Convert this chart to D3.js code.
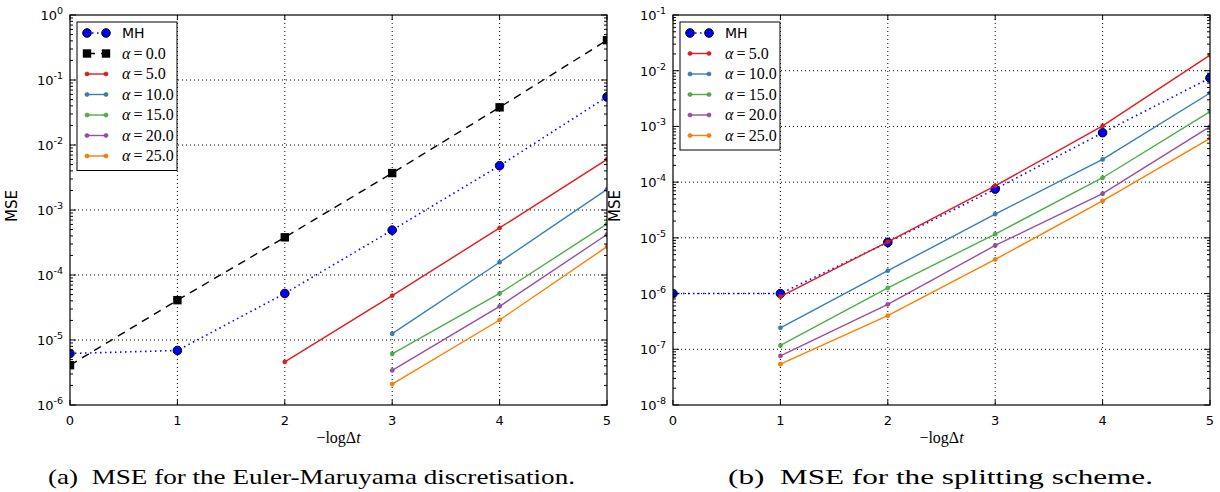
<!DOCTYPE html>
<html lang="en">
<head>
<meta charset="UTF-8">
<title>MSE</title>
<script src="https://d3js.org/d3.v7.min.js"></script>
<style>
  body { margin: 0; background: #fff; }
  svg { display: block; }
  text { font-family: "DejaVu Sans", sans-serif; }
  .serif { font-family: "Liberation Serif", "DejaVu Serif", serif; }
</style>
</head>
<body>
<script>

// ---- data ----
var steps = [0, 1, 2, 3, 4, 5];
var alphaLabels = ["5.0", "10.0", "15.0", "20.0", "25.0"];
var alphaColors = ["#e41a1c", "#377eb8", "#4daf4a", "#984ea3", "#ff7f00"];

// (a) Euler-Maruyama
var emMH      = [6.2e-6, 6.9e-6, 5.2e-5, 4.9e-4, 4.8e-3, 5.5e-2];
var emAlpha0  = [4.1e-6, 4.1e-5, 3.8e-4, 3.7e-3, 3.8e-2, 4.1e-1];
var emAlpha5  = [null, null, 4.6e-6, 4.8e-5, 5.3e-4, 6.0e-3];
var emAlpha10 = [null, null, null, 1.25e-5, 1.57e-4, 2.08e-3];
var emAlpha15 = [null, null, null, 6.1e-6, 5.2e-5, 6.1e-4];
var emAlpha20 = [null, null, null, 3.4e-6, 3.3e-5, 4.2e-4];
var emAlpha25 = [null, null, null, 2.1e-6, 2.03e-5, 2.73e-4];

// (b) splitting scheme
var spMH      = [1.0e-6, 1.0e-6, 8.3e-6, 7.5e-5, 7.7e-4, 7.4e-3];
var spAlpha5  = [null, 8.8e-7, 8.5e-6, 8.6e-5, 1.02e-3, 1.9e-2];
var spAlpha10 = [null, 2.43e-7, 2.57e-6, 2.67e-5, 2.56e-4, 3.98e-3];
var spAlpha15 = [null, 1.17e-7, 1.26e-6, 1.17e-5, 1.2e-4, 1.84e-3];
var spAlpha20 = [null, 7.6e-8, 6.4e-7, 7.3e-6, 6.2e-5, 9.9e-4];
var spAlpha25 = [null, 5.4e-8, 4.0e-7, 4.1e-6, 4.6e-5, 6.1e-4];

var svg = d3.select("body").append("svg")
    .attr("width", 1220)
    .attr("height", 492);

function drawPanel(p) {
    var x = d3.scaleLinear().domain([0, 5]).range([p.left, p.right]);
    var y = d3.scaleLog().domain(p.yDomain).range([p.bottom, p.top]);
    var g = svg.append("g");

    var clipId = "clip" + p.id;
    svg.append("clipPath").attr("id", clipId)
        .append("rect")
        .attr("x", p.left).attr("y", p.top)
        .attr("width", p.right - p.left).attr("height", p.bottom - p.top);

    var allTicks = y.ticks();
    var major = allTicks.filter(function (t) { return Math.abs(Math.log10(t) - Math.round(Math.log10(t))) < 1e-9; });
    var minor = allTicks.filter(function (t) { return major.indexOf(t) < 0; });

    // grid
    g.selectAll(".gx").data(steps.slice(1, -1)).enter().append("line")
        .attr("x1", function (d) { return x(d); }).attr("x2", function (d) { return x(d); })
        .attr("y1", p.top).attr("y2", p.bottom)
        .attr("stroke", "#000").attr("stroke-dasharray", "1,3");
    g.selectAll(".gy").data(major.slice(1, -1)).enter().append("line")
        .attr("x1", p.left).attr("x2", p.right)
        .attr("y1", function (d) { return y(d); }).attr("y2", function (d) { return y(d); })
        .attr("stroke", "#000").attr("stroke-dasharray", "1,3");

    // series
    var plot = g.append("g").attr("clip-path", "url(#" + clipId + ")");
    p.series.forEach(function (s) {
        var pts = s.values.map(function (v, i) { return [steps[i], v]; })
            .filter(function (d) { return d[1] != null; });
        var line = d3.line().x(function (d) { return x(d[0]); }).y(function (d) { return y(d[1]); });
        plot.append("path")
            .attr("d", line(pts))
            .attr("fill", "none")
            .attr("stroke", s.color)
            .attr("stroke-width", s.width)
            .attr("stroke-dasharray", s.dash);
        drawMarkers(plot, pts.map(function (d) { return [x(d[0]), y(d[1])]; }), s);
    });

    // ticks
    var ticks = g.append("g").attr("stroke", "#000").attr("stroke-width", 1);
    steps.forEach(function (d) {
        ticks.append("line").attr("x1", x(d)).attr("x2", x(d)).attr("y1", p.bottom).attr("y2", p.bottom - 5);
        ticks.append("line").attr("x1", x(d)).attr("x2", x(d)).attr("y1", p.top).attr("y2", p.top + 5);
    });
    major.forEach(function (d) {
        ticks.append("line").attr("x1", p.left).attr("x2", p.left + 6).attr("y1", y(d)).attr("y2", y(d));
        ticks.append("line").attr("x1", p.right).attr("x2", p.right - 6).attr("y1", y(d)).attr("y2", y(d));
    });
    minor.forEach(function (d) {
        ticks.append("line").attr("x1", p.left).attr("x2", p.left + 3).attr("y1", y(d)).attr("y2", y(d));
        ticks.append("line").attr("x1", p.right).attr("x2", p.right - 3).attr("y1", y(d)).attr("y2", y(d));
    });

    // frame
    g.append("rect")
        .attr("x", p.left).attr("y", p.top)
        .attr("width", p.right - p.left).attr("height", p.bottom - p.top)
        .attr("fill", "none").attr("stroke", "#000").attr("stroke-width", 1.2);

    // tick labels
    g.selectAll(".xl").data(steps).enter().append("text")
        .attr("x", function (d) { return x(d); })
        .attr("y", p.bottom + 20)
        .attr("text-anchor", "middle")
        .attr("font-size", 13)
        .text(function (d) { return d; });
    major.forEach(function (d) {
        var e = Math.round(Math.log10(d));
        var t = g.append("text")
            .attr("x", p.left - 7)
            .attr("y", y(d) + 5)
            .attr("text-anchor", "end")
            .attr("font-size", 13);
        t.append("tspan").text("10");
        t.append("tspan").attr("dy", -6).attr("font-size", 9.5).text(e === 0 ? "0" : "-" + (-e));
    });

    // axis labels
    g.append("text")
        .attr("transform", "translate(" + (p.left - 53) + "," + ((p.top + p.bottom) / 2 - 4) + ") rotate(-90)")
        .attr("text-anchor", "middle")
        .attr("font-size", 15)
        .text("MSE");
    var xl = g.append("text").attr("class", "serif")
        .attr("x", (p.left + p.right) / 2)
        .attr("y", p.bottom + 38)
        .attr("text-anchor", "middle")
        .attr("font-size", 16);
    xl.append("tspan").text("\u2212log\u0394");
    xl.append("tspan").attr("font-style", "italic").text("t");

    // caption
    g.append("text").attr("class", "serif")
        .attr("x", p.captionX)
        .attr("y", 484)
        .attr("font-size", 22)
        .attr("textLength", p.captionW)
        .attr("lengthAdjust", "spacingAndGlyphs")
        .style("white-space", "pre")
        .text(p.caption);

    // legend
    var lg = g.append("g").attr("transform", "translate(" + (p.left + 7) + "," + (p.top + 7) + ")");
    var rowH = 20.5;
    lg.append("rect")
        .attr("width", 100).attr("height", p.series.length * rowH + 5)
        .attr("fill", "#fff").attr("stroke", "#000").attr("stroke-width", 1);
    p.series.forEach(function (s, i) {
        var cy = 11 + i * rowH;
        lg.append("line")
            .attr("x1", 10).attr("x2", 29).attr("y1", cy).attr("y2", cy)
            .attr("stroke", s.color).attr("stroke-width", s.width)
            .attr("stroke-dasharray", s.dash);
        drawMarkers(lg, [[10, cy], [29, cy]], s);
        var t = lg.append("text").attr("x", 45).attr("y", cy + 5);
        if (s.alpha == null) {
            t.attr("font-size", 14).text(s.label);
        } else {
            t.attr("class", "serif").attr("font-size", 16);
            t.append("tspan").attr("font-style", "italic").text("\u03b1");
            t.append("tspan").text("\u2009=\u2009" + s.alpha);
        }
    });
}

function drawMarkers(parent, pts, s) {
    pts.forEach(function (pt) {
        if (s.marker === "circle") {
            parent.append("circle").attr("cx", pt[0]).attr("cy", pt[1]).attr("r", 4.3)
                .attr("fill", s.color).attr("stroke", "#000").attr("stroke-width", 1);
        } else if (s.marker === "square") {
            parent.append("rect").attr("x", pt[0] - 4.2).attr("y", pt[1] - 4.2)
                .attr("width", 8.4).attr("height", 8.4).attr("fill", s.color);
        } else {
            parent.append("circle").attr("cx", pt[0]).attr("cy", pt[1]).attr("r", 2.1)
                .attr("fill", s.color).attr("stroke", d3.color(s.color).darker(0.6)).attr("stroke-width", 0.5);
        }
    });
}

function alphaSeries(arrays) {
    return arrays.map(function (v, i) {
        return { values: v, color: alphaColors[i], width: 1.4, dash: null, marker: "dot", alpha: alphaLabels[i] };
    });
}

var mhStyle = { color: "#0000ff", width: 1.6, dash: "1.5,3.5", marker: "circle", label: "MH" };

drawPanel({
    id: "a", left: 70, right: 607, top: 15, bottom: 405, yDomain: [1e-6, 1],
    caption: "(a)  MSE for the Euler-Maruyama discretisation.", captionX: 48, captionW: 527,
    series: [Object.assign({ values: emMH }, mhStyle),
             { values: emAlpha0, color: "#000", width: 1.4, dash: "8,6", marker: "square", alpha: "0.0" }]
        .concat(alphaSeries([emAlpha5, emAlpha10, emAlpha15, emAlpha20, emAlpha25]))
});

drawPanel({
    id: "b", left: 673, right: 1210, top: 15, bottom: 405, yDomain: [1e-8, 1e-1],
    caption: "(b)  MSE for the splitting scheme.", captionX: 728, captionW: 425,
    series: [Object.assign({ values: spMH }, mhStyle)]
        .concat(alphaSeries([spAlpha5, spAlpha10, spAlpha15, spAlpha20, spAlpha25]))
});

</script>
</body>
</html>
